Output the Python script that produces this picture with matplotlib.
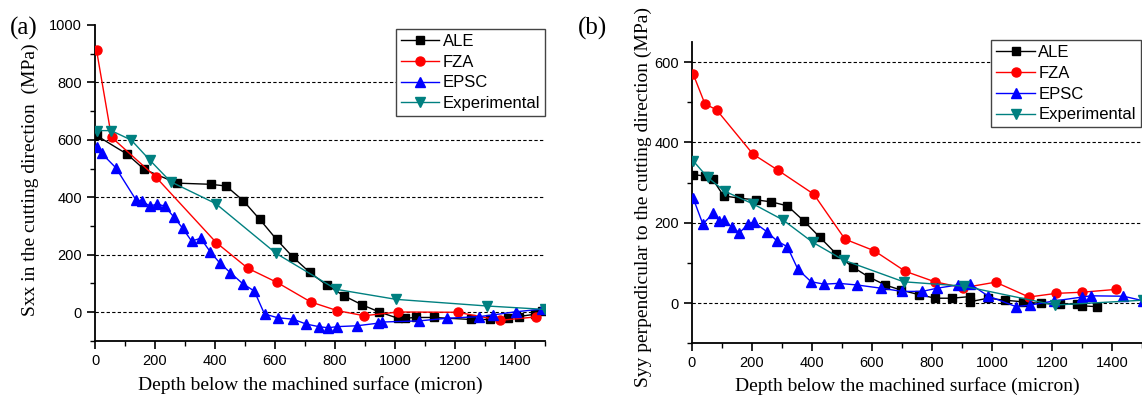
import matplotlib
matplotlib.use("Agg")
import matplotlib.pyplot as plt
from matplotlib.ticker import MultipleLocator

# ---- panel (a): Sxx ----
a_ale_x = [5, 107, 164, 273, 385, 437, 494, 549, 605, 660, 716, 773, 831, 890, 948,
           1010, 1032, 1069, 1129, 1252, 1315, 1378, 1412, 1465, 1490]
a_ale_y = [615, 550, 497, 449, 445, 439, 388, 323, 253, 191, 138, 93, 56, 25, 0,
           -22, -22, -19, -19, -26, -26, -22, -16, -8, 5]
a_fza_x = [5, 55, 203, 404, 510, 607, 719, 807, 897, 1010, 1209, 1350, 1471]
a_fza_y = [913, 609, 470, 242, 152, 103, 35, 5, -13, 0, -1, -29, -17]
a_epsc_x = [6, 22, 69, 137, 157, 182, 208, 232, 262, 292, 322, 352, 384, 415, 451,
            492, 531, 565, 609, 660, 704, 746, 777, 807, 873, 943, 955, 1080, 1172,
            1281, 1328, 1404, 1490]
a_epsc_y = [576, 553, 503, 390, 387, 369, 376, 369, 332, 292, 247, 257, 210, 172, 137,
            99, 73, -7, -20, -25, -42, -51, -55, -51, -48, -39, -35, -31, -22,
            -16, -10, 1, 10]
a_exp_x = [5, 54, 121, 182, 252, 402, 604, 804, 1004, 1306, 1500]
a_exp_y = [632, 632, 599, 530, 454, 378, 204, 79, 44, 21, 9]

# ---- panel (b): Syy ----
b_ale_x = [4, 43, 69, 105, 158, 212, 264, 318, 372, 426, 480, 535, 589, 644, 698,
           756, 811, 867, 925, 925, 986, 1043, 1104, 1162, 1226, 1284, 1301, 1351]
b_ale_y = [320, 316, 308, 267, 261, 257, 252, 242, 205, 164, 123, 90, 65, 45, 32,
           21, 12, 12, 16, 3, 12, 7, 3, -1, -2, -3, -7, -9]
b_fza_x = [4, 43, 82, 203, 286, 406, 510, 608, 711, 809, 904, 1012, 1123, 1213, 1301, 1414]
b_fza_y = [570, 496, 481, 371, 331, 271, 159, 130, 79, 53, 38, 52, 15, 24, 27, 34]
b_epsc_x = [4, 36, 71, 91, 105, 133, 158, 188, 205, 249, 283, 318, 353, 397, 441,
            489, 550, 630, 700, 768, 817, 886, 928, 986, 1080, 1128, 1206, 1301,
            1329, 1438, 1502]
b_epsc_y = [261, 197, 223, 204, 207, 189, 175, 197, 202, 178, 155, 140, 84, 53, 47,
            49, 45, 37, 29, 29, 37, 45, 47, 18, -9, -5, 5, 15,
            18, 17, 6]
b_exp_x = [4, 52, 110, 203, 303, 403, 505, 705, 906, 1209, 1502]
b_exp_y = [354, 313, 278, 247, 207, 151, 107, 53, 42, -5, 7]

names = ["ALE", "FZA", "EPSC", "Experimental"]
colors = ["black", "#ff0000", "#0000ff", "#008080"]
markers = ["s", "o", "^", "v"]
msizes = [6, 6.5, 7, 7]

fig = plt.figure(figsize=(11.42, 4.0), dpi=100)
ax1 = fig.add_axes([95 / 1142, 1 - 340.7 / 400, 450 / 1142, 315.7 / 400])
ax2 = fig.add_axes([692 / 1142, 1 - 343.2 / 400, 450 / 1142, 301.2 / 400])

serif = ["Liberation Serif", "DejaVu Serif"]
sans = ["Liberation Sans", "DejaVu Sans"]

panels = [
    (ax1, [(a_ale_x, a_ale_y), (a_fza_x, a_fza_y), (a_epsc_x, a_epsc_y), (a_exp_x, a_exp_y)],
     (-100, 1000), [0, 200, 400, 600, 800, 1000], [0, 200, 400, 600, 800],
     "Sxx in the cutting direction  (MPa)", (1.0, 0.988), (-0.125, 0.51)),
    (ax2, [(b_ale_x, b_ale_y), (b_fza_x, b_fza_y), (b_epsc_x, b_epsc_y), (b_exp_x, b_exp_y)],
     (-100, 650), [0, 200, 400, 600], [0, 200, 400, 600],
     "Syy perpendicular to the cutting direction (MPa)", (0.997, 1.007), (-0.09, 0.485)),
]

for ax, series, ylim, yticks, grid_y, ylab, leg_pos, ylab_pos in panels:
    for gy in grid_y:
        ax.axhline(gy, color="black", lw=0.8, ls=(0, (3, 2)), zorder=0)
    for (xs, ys), name, c, m, ms in zip(series, names, colors, markers, msizes):
        ax.plot(xs, ys, color=c, marker=m, ms=ms, lw=1.0, label=name, zorder=3)
    ax.set_xlim(0, 1500)
    ax.set_ylim(*ylim)
    ax.set_xticks([0, 200, 400, 600, 800, 1000, 1200, 1400])
    ax.xaxis.set_minor_locator(MultipleLocator(100))
    ax.set_yticks(yticks)
    ax.yaxis.set_minor_locator(MultipleLocator(100))
    ax.tick_params(which="major", direction="out", length=6, width=1.2, labelsize=10.5)
    ax.tick_params(which="minor", direction="out", length=3.5, width=1.0)
    for lab in ax.get_xticklabels() + ax.get_yticklabels():
        lab.set_family(sans)
    ax.spines["top"].set_visible(False)
    ax.spines["right"].set_visible(False)
    ax.spines["left"].set_linewidth(1.3)
    ax.spines["bottom"].set_linewidth(1.3)
    ax.set_xlabel("Depth below the machined surface (micron)", family=serif, fontsize=14)
    ax.xaxis.set_label_coords(0.478, -0.112)
    ax.set_ylabel(ylab, family=serif, fontsize=14)
    ax.yaxis.set_label_coords(*ylab_pos)
    leg = ax.legend(loc="upper right", bbox_to_anchor=leg_pos, borderaxespad=0,
                    prop={"family": sans, "size": 12}, fancybox=False,
                    edgecolor="#444444", framealpha=1, handlelength=2.3,
                    handletextpad=0.2, labelspacing=0.35, borderpad=0.3)
    leg.get_frame().set_linewidth(1.0)

fig.text(10 / 1142, 1 - 35 / 400, "(a)", family=serif, fontsize=18)
fig.text(578 / 1142, 1 - 35 / 400, "(b)", family=serif, fontsize=18)

fig.savefig("out.png", dpi=100)
